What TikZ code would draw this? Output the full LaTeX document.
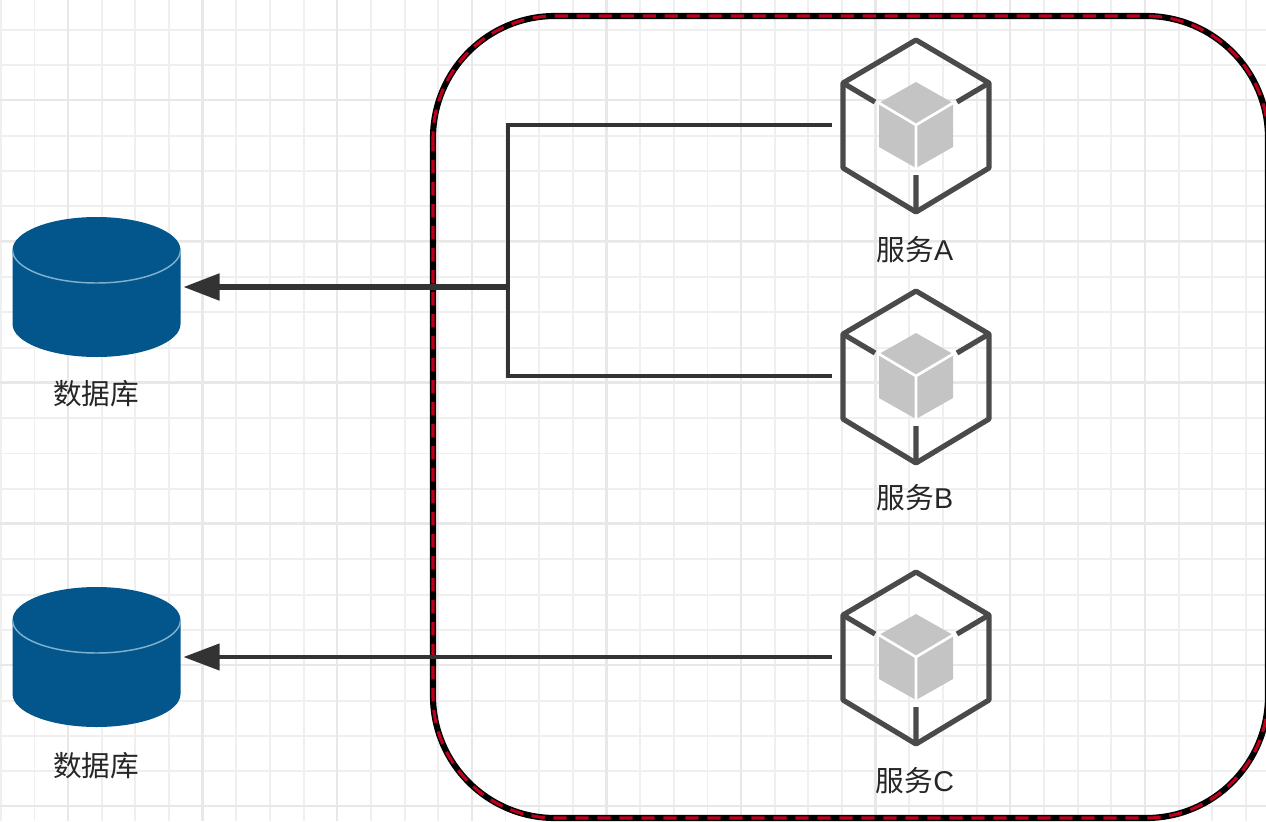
\documentclass[tikz,border=0pt]{standalone}
\usepackage{fontspec}
\setmainfont{Liberation Sans}
\newfontfamily\cjk{Noto Sans CJK SC}
\usetikzlibrary{arrows.meta}
\definecolor{gridthin}{HTML}{EFEFEF}
\definecolor{gridthick}{HTML}{E8E8E8}
\definecolor{dbblue}{HTML}{02568C}
\definecolor{dbline}{HTML}{7FB0CC}
\definecolor{icon}{HTML}{4A4A4A}
\definecolor{cubegray}{HTML}{C4C4C4}
\definecolor{wire}{HTML}{333333}
\definecolor{framered}{HTML}{BE001E}
\tikzset{
  anchorbox/.style={minimum width=126pt,minimum height=129pt,inner sep=0pt,outer sep=0pt},
  dbbox/.style={minimum width=130.5pt,minimum height=105pt,inner sep=0pt,outer sep=0pt},
  lbl/.style={inner sep=0pt,font=\fontsize{21.5}{24}\selectfont,text=black!85},
  wireline/.style={draw=wire,line width=3pt,line join=miter},
  arrowline/.style={wireline,-{Triangle[length=27pt 0 0,width=19.5pt 0 0]}},
  pics/svc/.style={code={
    \fill[cubegray] (0,-43) -- (37,-22) -- (37,22) -- (0,43) -- (-37,22) -- (-37,-22) -- cycle;
    \draw[white,line width=2pt] (-37,-22) -- (0,0) -- (37,-22) (0,0) -- (0,43);
    \draw[icon,line width=3.9pt,line join=round]
      (0,-85) -- (73,-42) -- (73,43) -- (0,87) -- (-73,43) -- (-73,-42) -- cycle;
    \draw[icon,line width=3.9pt]
      (-73,-42) -- (-41,-23) (73,-42) -- (41,-23) (0,87) -- (0,50);
  }},
  pics/dbicon/.style={code={
    \fill[dbblue] (-84,-37) arc[x radius=84,y radius=33,start angle=180,end angle=360]
      -- (84,37) arc[x radius=84,y radius=33,start angle=0,end angle=180] -- cycle;
    \draw[dbline,line width=1.1pt] (-84,-37) arc[x radius=84,y radius=33,start angle=180,end angle=0];
  }},
}
\begin{document}
\begin{tikzpicture}[x=0.75pt,y=-0.75pt]
\useasboundingbox (0,0) rectangle (1266,821);
\begin{scope}
\clip (0,0) rectangle (1266,821);
\fill[white] (0,0) rectangle (1266,821);
% grid
\foreach \i in {0,...,37} {
  \pgfmathsetmacro\gx{0.8+33.65*\i}
  \draw[gridthin,line width=1.4pt] (\gx,0) -- (\gx,821);
}
\foreach \i in {0,...,23} {
  \pgfmathsetmacro\gy{-5.4+35.3*\i}
  \draw[gridthin,line width=1.4pt] (0,\gy) -- (1266,\gy);
}
\foreach \i in {0,...,9} {
  \pgfmathsetmacro\gx{68+134.6*\i}
  \draw[gridthick,line width=1.7pt] (\gx,0) -- (\gx,821);
}
\foreach \i in {0,...,5} {
  \pgfmathsetmacro\gy{100+141.2*\i}
  \draw[gridthick,line width=1.7pt] (0,\gy) -- (1266,\gy);
}
% frame
\draw[black,line width=4.6pt,rounded corners=91.5pt] (433,16) rectangle (1268,818);
\draw[framered,line width=2.3pt,dash pattern=on 10pt off 6.5pt,rounded corners=91.5pt] (433,16) rectangle (1268,818);
\end{scope}
% icons
\node[anchorbox] (svcA) at (916,125) {};
\node[anchorbox] (svcB) at (916,376) {};
\node[anchorbox] (svcC) at (916,657) {};
\node[dbbox] (dbA) at (96.5,287) {};
\node[dbbox] (dbB) at (96.5,657) {};
\pic at (svcA) {svc};
\pic at (svcB) {svc};
\pic at (svcC) {svc};
\pic at (dbA) {dbicon};
\pic at (dbB) {dbicon};
% labels
\node[lbl] (lblA) at (915,250) {{\cjk 服务}A};
\node[lbl] (lblB) at (915,498) {{\cjk 服务}B};
\node[lbl] (lblC) at (915,781) {{\cjk 服务}C};
\node[lbl] (lblD) at (96,394) {\cjk 数据库};
\node[lbl] (lblE) at (96,766) {\cjk 数据库};
% connectors
\coordinate (junction) at (508,287);
\draw[wireline] (svcA.west) -| (junction) |- (svcB.west);
\draw[arrowline,line width=3.8pt] (junction) -- (dbA.east);
\draw[arrowline] (svcC.west) -- (dbB.east);
\end{tikzpicture}
\end{document}
